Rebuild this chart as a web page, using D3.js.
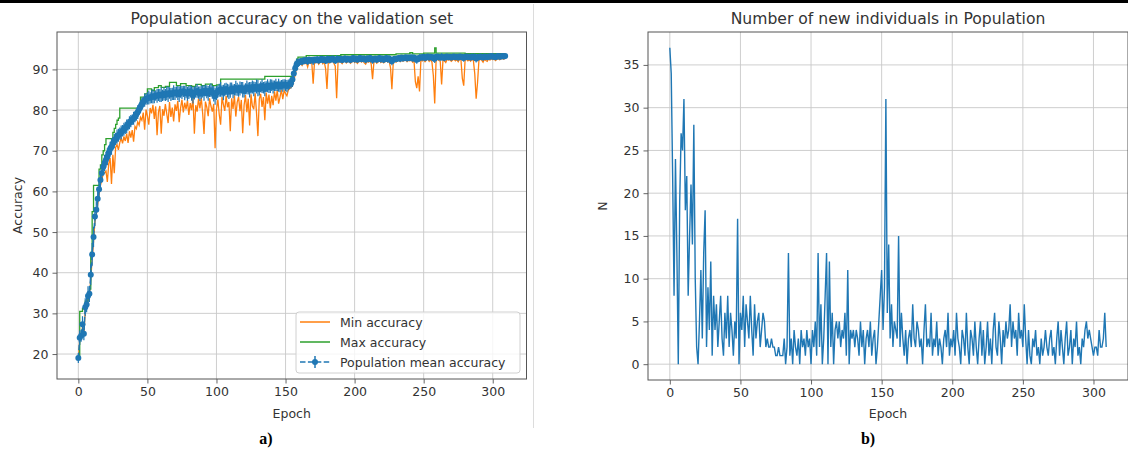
<!DOCTYPE html>
<html><head><meta charset="utf-8">
<script src="https://cdn.jsdelivr.net/npm/d3@7"></script>
<style>body{margin:0;background:#fff}svg{display:block}</style>
</head><body><svg id="chart" width="1128" height="452"></svg>
<script>
// ---------------- DATA ----------------
const X_TICKS = [0, 50, 100, 150, 200, 250, 300];
const ACC_TICKS = [20, 30, 40, 50, 60, 70, 80, 90];
const N_TICKS = [0, 5, 10, 15, 20, 25, 30, 35];
const LEGEND_LABELS = ["Min accuracy", "Max accuracy", "Population mean accuracy"];
const TITLE_A = "Population accuracy on the validation set";
const TITLE_B = "Number of new individuals in Population";

const MEAN_ACC = [
19.0,24.0,24.5,27.3,25.0,31.5,32.2,34.3,34.8,39.5,
44.5,48.8,53.8,55.5,58.2,60.5,62.8,64.5,66.0,67.0,
67.8,68.5,69.5,70.4,71.0,71.8,72.4,72.9,73.5,73.8,
74.2,74.5,74.9,75.3,75.6,76.0,76.4,76.9,77.3,77.6,
78.0,78.4,78.9,79.5,80.2,80.8,81.5,82.0,82.4,82.7,
82.9,83.1,83.0,83.3,83.4,83.2,83.6,83.5,83.7,83.6,
83.8,83.6,84.0,83.7,84.1,83.9,84.2,83.8,84.0,84.3,
84.1,84.4,84.2,83.9,84.5,84.3,84.6,84.2,84.4,84.0,
84.3,84.6,84.1,83.6,84.2,84.5,84.7,84.3,84.0,84.4,
84.6,84.2,84.8,84.5,84.1,84.7,84.9,84.4,84.0,83.4,
84.2,84.6,84.9,85.1,84.7,84.3,85.0,85.2,84.8,84.5,
84.9,85.3,84.6,85.0,85.4,85.1,84.8,85.3,85.5,85.0,
84.7,85.2,85.6,85.3,85.0,85.5,85.7,85.2,85.6,85.8,
85.4,85.1,85.7,85.9,85.5,85.2,85.8,86.0,85.6,85.9,
86.1,85.7,86.0,86.2,85.9,86.1,85.8,86.2,86.0,86.3,
86.1,85.9,86.2,86.4,86.6,87.5,89.0,90.3,91.2,91.6,
91.8,92.0,91.9,92.2,92.1,92.3,92.0,92.4,92.2,92.3,
92.1,92.4,92.3,92.5,92.2,92.4,92.6,92.3,92.5,92.2,
92.4,92.6,92.3,92.5,92.7,92.4,92.2,92.5,92.6,92.4,
92.6,92.3,92.5,92.7,92.4,92.6,92.5,92.3,92.6,92.8,
92.5,92.7,92.4,92.6,92.8,92.5,92.7,92.6,92.4,92.7,
92.5,92.8,92.6,92.3,92.5,92.7,92.4,92.6,92.8,92.5,
92.7,92.4,92.6,92.8,92.5,92.7,92.3,92.0,92.4,92.6,
92.5,92.7,92.8,92.6,92.9,92.7,92.8,93.0,92.7,92.9,
92.8,93.0,92.7,92.9,92.6,92.4,92.7,92.8,93.0,92.9,
93.1,92.8,93.0,93.2,92.9,93.1,93.0,92.8,92.6,93.1,
93.2,93.0,92.9,93.1,93.0,92.8,93.1,93.2,93.0,93.1,
92.9,93.1,93.2,93.0,93.1,92.9,93.2,93.1,93.0,92.8,
93.1,93.2,93.0,93.1,92.9,93.2,93.0,93.1,92.7,92.9,
93.0,93.2,93.1,92.9,93.2,93.1,93.0,93.2,93.1,93.3,
93.1,93.2,93.0,93.2,93.3,93.1,93.2,93.3,93.2,93.3
];

// standard deviation of the population accuracy (error bars)
const MEAN_STD = [
1.2,1.8,1.5,2.0,1.6,2.2,1.9,2.4,2.0,2.6,
2.8,2.5,2.3,2.1,2.4,2.0,1.9,2.2,1.8,2.0,
1.9,2.1,1.7,1.8,2.0,1.6,1.8,1.5,1.7,1.6,
1.5,1.7,1.4,1.6,1.5,1.7,1.4,1.6,1.5,1.3,
1.6,1.4,1.5,1.7,1.4,1.6,1.5,1.3,1.6,1.4,
1.5,1.7,1.4,1.6,1.8,1.5,1.3,1.7,1.5,1.6,
1.8,1.4,1.6,1.5,1.7,1.9,1.4,1.6,1.5,1.8,
1.6,1.4,1.7,1.9,1.5,1.6,1.4,1.8,1.5,1.7,
1.6,1.5,1.8,2.0,1.6,1.4,1.7,1.5,1.8,1.6,
1.5,1.9,1.4,1.6,1.8,1.5,1.7,1.6,1.9,2.1,
1.7,1.5,1.6,1.8,1.4,1.9,1.6,1.5,1.7,1.8,
1.9,1.5,1.7,1.4,1.8,1.6,1.5,1.7,1.4,1.9,
1.6,1.4,1.7,1.5,1.9,1.4,1.6,1.8,1.3,1.7,
2.0,1.5,1.3,1.7,1.4,1.8,1.3,1.6,1.4,1.7,
1.4,1.6,1.3,1.5,1.2,1.6,1.4,1.2,1.5,1.3,
1.4,1.5,1.3,1.2,1.3,1.8,2.0,1.8,1.4,1.0,
0.9,0.8,0.9,0.7,0.8,0.7,0.9,0.7,0.8,0.7,
1.0,0.7,0.8,0.7,0.8,0.7,0.6,0.8,0.7,0.9,
1.0,0.7,0.8,0.7,0.6,0.8,0.9,1.0,0.7,0.6,
0.7,0.8,0.6,0.7,0.8,0.6,0.7,0.8,0.7,0.6,
0.8,0.6,0.7,0.8,0.6,0.7,0.6,0.8,0.9,0.7,
0.7,0.6,0.8,0.9,0.7,0.6,0.8,0.7,0.6,0.8,
0.6,0.8,0.7,0.6,0.8,0.7,0.9,1.0,0.8,0.7,
0.7,0.6,0.7,0.8,0.6,0.7,0.6,0.5,0.7,0.6,
0.7,0.6,0.8,0.7,0.9,1.0,0.8,0.9,0.6,0.7,
0.6,0.8,0.7,0.6,0.7,0.6,0.8,0.9,1.0,0.7,
0.6,0.7,0.8,0.9,0.7,0.8,0.7,0.6,0.7,0.6,
0.7,0.6,0.5,0.7,0.6,0.7,0.5,0.6,0.8,0.9,
0.6,0.5,0.7,0.6,0.7,0.5,0.6,0.8,1.0,0.9,
0.7,0.6,0.5,0.7,0.5,0.6,0.7,0.5,0.6,0.5,
0.6,0.5,0.7,0.5,0.5,0.6,0.5,0.5,0.6,0.5
];

const MIN_ACC = [
18.6,23.2,24.0,26.6,24.5,30.8,31.6,33.5,34.0,38.5,
43.4,47.6,52.5,54.3,56.8,59.0,61.5,62.8,64.3,64.5,
65.0,62.3,66.8,68.2,61.8,69.0,64.5,70.8,71.5,70.2,
72.0,73.1,71.8,73.5,72.4,74.2,71.9,74.8,73.2,75.1,
72.2,76.0,75.4,77.1,76.3,78.2,77.5,79.4,75.2,80.1,
78.6,76.4,80.5,79.2,81.3,77.8,80.9,73.8,79.5,81.0,
74.2,80.2,78.6,81.5,79.1,76.8,82.0,78.3,80.6,77.2,
81.4,79.8,82.3,77.0,80.5,82.6,79.4,81.8,80.2,82.4,
78.8,81.7,80.0,83.1,74.2,81.2,79.6,82.8,80.4,83.0,
79.2,74.1,82.1,80.7,78.5,82.9,81.0,79.6,81.5,70.6,
80.2,82.6,78.9,76.4,83.2,81.4,79.8,83.5,80.7,82.0,
74.8,82.9,80.3,83.6,78.4,81.9,83.3,79.7,82.5,74.3,
81.2,83.7,79.5,82.8,76.2,83.9,81.0,80.2,84.1,79.3,
73.6,82.7,84.0,80.8,83.2,77.5,84.3,81.6,83.8,80.4,
83.5,81.2,84.6,82.3,84.9,81.6,83.2,85.0,82.7,84.8,
84.1,83.5,84.9,85.3,85.6,86.0,87.2,88.8,90.3,90.9,
91.2,91.5,91.0,91.7,91.4,91.8,90.6,92.0,91.5,91.7,
86.5,91.9,91.6,92.0,91.3,91.8,92.1,91.4,91.9,90.2,
85.2,92.0,91.6,91.9,92.2,91.5,90.8,82.9,91.7,92.0,
91.8,91.4,92.0,92.2,91.6,91.9,92.1,91.5,91.8,92.3,
91.7,92.0,91.5,91.9,92.2,91.8,92.1,91.6,91.3,92.0,
91.8,92.1,91.4,87.6,91.9,92.2,91.5,91.8,92.3,91.7,
92.0,91.6,91.9,92.2,91.8,92.1,90.4,85.1,91.8,92.0,
91.8,92.1,92.3,91.9,92.4,92.0,92.2,92.5,91.9,92.3,
92.1,92.4,91.8,92.2,87.0,85.4,88.3,84.6,92.3,92.1,
92.4,91.9,92.3,92.6,92.0,92.4,91.8,88.5,81.6,92.3,
92.5,92.2,92.0,86.3,92.4,92.1,91.7,92.5,92.3,92.4,
92.0,92.3,92.5,92.1,92.4,91.9,92.5,92.3,87.8,86.0,
92.3,92.5,92.1,92.4,92.0,92.5,92.2,88.9,82.8,86.7,
92.2,92.5,92.3,91.8,92.5,92.2,92.0,92.6,92.3,92.7,
92.4,92.6,92.2,92.5,92.7,92.4,92.6,92.7,92.5,92.8
];

const MAX_ACC = [
19.6,30.5,30.5,31.2,31.2,33.0,33.0,34.9,36.0,45.0,
55.0,61.5,61.5,61.5,61.5,65.5,66.5,69.0,70.0,71.5,
73.0,73.0,73.0,73.0,73.0,74.5,75.5,76.5,77.5,78.0,
80.5,80.5,80.5,80.5,80.5,80.5,80.5,80.5,80.5,80.5,
80.5,80.5,80.5,80.5,80.5,83.2,83.2,83.2,84.0,84.0,
85.2,85.2,85.2,84.8,84.8,85.5,85.5,85.5,86.0,86.0,
85.6,85.6,85.6,85.8,85.8,85.8,86.8,86.8,86.8,86.8,
86.8,86.0,86.0,86.0,86.5,86.5,86.5,86.5,86.0,86.0,
86.0,86.0,85.8,85.8,85.8,86.3,86.3,86.3,86.3,86.0,
86.0,86.0,86.4,86.4,86.4,86.4,86.4,86.0,86.0,86.0,
86.2,86.2,86.2,87.6,87.6,87.6,87.6,87.6,87.6,87.6,
87.6,87.6,87.6,87.6,87.6,87.6,87.6,87.6,87.6,87.6,
87.6,87.6,87.6,87.6,87.6,87.6,87.6,87.6,87.6,87.6,
87.6,87.6,87.6,87.6,87.6,88.3,88.3,88.3,88.3,88.3,
88.3,88.3,88.3,88.3,88.3,88.3,88.3,88.3,88.3,88.3,
88.3,88.3,88.3,88.3,88.3,89.0,90.5,91.5,92.5,93.0,
93.0,93.0,93.0,93.0,93.0,93.4,93.4,93.4,93.4,93.4,
93.4,93.4,93.4,93.4,93.4,93.4,93.4,93.4,93.4,93.4,
93.4,93.4,93.4,93.4,93.4,93.4,93.4,93.4,93.4,93.4,
93.6,93.6,93.6,93.6,93.6,93.6,93.6,93.6,93.6,93.6,
93.6,93.6,93.6,93.6,93.6,93.6,93.6,93.6,93.6,93.6,
93.6,93.6,93.6,93.6,93.6,93.6,93.6,93.6,93.6,93.6,
93.6,93.6,93.6,93.6,93.6,93.6,93.6,93.6,93.6,93.6,
93.8,93.8,93.8,93.8,93.8,93.8,93.8,93.8,93.8,93.8,
94.1,94.1,93.8,93.8,93.8,93.8,93.8,93.8,93.8,93.8,
94.0,94.0,94.0,94.0,94.0,94.0,94.0,94.0,95.3,94.0,
94.0,94.0,94.0,94.0,94.0,94.0,94.0,94.0,94.0,94.0,
94.0,94.0,94.0,94.0,94.0,94.0,94.0,94.0,94.0,94.0,
93.9,93.9,93.9,93.9,93.9,93.9,93.9,93.9,93.9,93.9,
93.9,93.9,93.9,93.9,93.9,93.9,93.9,93.9,93.9,93.9,
93.9,93.9,93.9,93.9,93.9,93.9,93.9,93.9,93.9,93.9
];

const NEW_INDIVIDUALS = [
37,34,22,8,24,13,0,19,27,25,
31,18,22,8,15,21,14,28,10,2,
0,5,11,3,13,18,2,9,4,12,
1,8,4,7,2,5,8,3,1,6,
3,8,2,6,4,1,5,3,17,0,
6,4,8,2,7,5,3,8,4,1,
7,3,5,6,2,4,6,5,2,3,
2,2,3,2,2,1,1,2,1,1,
1,3,0,2,13,1,3,0,4,2,
1,3,0,4,2,3,1,4,2,3,
0,4,2,5,1,13,2,7,0,3,
8,13,0,12,2,6,0,4,5,3,
5,2,4,3,6,1,11,0,4,3,
4,2,4,3,1,5,2,4,0,3,
4,2,5,1,3,4,0,2,5,8,
11,4,9,31,6,14,3,7,2,5,
4,3,15,2,6,3,1,4,0,3,
4,2,7,3,2,5,4,2,3,0,
4,7,2,3,2,6,1,3,2,5,
1,3,2,0,3,4,2,6,1,3,
2,4,1,6,3,2,0,4,3,1,
6,2,0,4,3,1,5,2,0,3,
5,1,4,0,2,5,1,3,0,4,
6,2,1,5,3,0,4,2,5,3,
4,7,2,5,3,4,1,6,3,4,
2,7,3,0,4,1,0,3,2,4,
1,2,0,3,1,2,4,2,1,3,
4,1,2,0,3,5,1,4,2,0,
3,5,1,2,4,0,3,2,5,1,
2,0,3,2,4,5,3,4,3,2,
1,2,2,1,4,2,2,3,6,2
];

// ---------------- DRAWING ----------------
const FONT = "'DejaVu Sans', sans-serif";
const TXT = "#333";
const C_BLUE = "#1f77b4", C_ORANGE = "#ff7f0e", C_GREEN = "#2ca02c";
const svg = d3.select("#chart");
svg.append("rect").attr("width", 1128).attr("height", 452).attr("fill", "#fff");
svg.append("rect").attr("x", 0).attr("y", 0).attr("width", 1128).attr("height", 3).attr("fill", "#000");
svg.append("line").attr("x1", 533.5).attr("x2", 533.5).attr("y1", 4).attr("y2", 428)
  .attr("stroke", "#dcdcdc").attr("stroke-width", 1);

function makePanel(o) {
  const x = d3.scaleLinear().domain(o.xd).range([o.l, o.r]);
  const y = d3.scaleLinear().domain(o.yd).range([o.b, o.t]);
  const g = svg.append("g");
  const id = "clip" + o.id;
  svg.append("defs").append("clipPath").attr("id", id)
    .append("rect").attr("x", o.l).attr("y", o.t).attr("width", o.r - o.l).attr("height", o.b - o.t);
  g.append("g").selectAll("line").data(X_TICKS).join("line")
    .attr("x1", d => x(d)).attr("x2", d => x(d)).attr("y1", o.t).attr("y2", o.b)
    .attr("stroke", "#c8c8c8").attr("stroke-width", 0.9);
  g.append("g").selectAll("line").data(o.yTicks).join("line")
    .attr("x1", o.l).attr("x2", o.r).attr("y1", d => y(d)).attr("y2", d => y(d))
    .attr("stroke", "#c8c8c8").attr("stroke-width", 0.9);
  const plot = svg.append("g").attr("clip-path", `url(#${id})`);
  const xa = svg.append("g").attr("transform", `translate(0,${o.b})`)
    .call(d3.axisBottom(x).tickValues(X_TICKS).tickSize(4.5).tickPadding(4).tickFormat(d3.format("d")));
  const ya = svg.append("g").attr("transform", `translate(${o.l},0)`)
    .call(d3.axisLeft(y).tickValues(o.yTicks).tickSize(4.5).tickPadding(4).tickFormat(d3.format("d")));
  [xa, ya].forEach(a => {
    a.select(".domain").remove();
    a.selectAll(".tick line").attr("stroke", "#555").attr("stroke-width", 0.9);
    a.selectAll("text").attr("fill", TXT).style("font-family", FONT).style("font-size", "12.5px");
  });
  svg.append("rect").attr("x", o.l).attr("y", o.t).attr("width", o.r - o.l).attr("height", o.b - o.t)
    .attr("fill", "none").attr("stroke", "#555").attr("stroke-width", 1);
  svg.append("text").attr("x", (o.l + o.r) / 2).attr("y", o.t - 8).attr("text-anchor", "middle")
    .attr("fill", TXT).style("font-family", FONT).style("font-size", "15.6px").text(o.title);
  svg.append("text").attr("x", (o.l + o.r) / 2).attr("y", 418).attr("text-anchor", "middle")
    .attr("fill", TXT).style("font-family", FONT).style("font-size", "12.5px").text("Epoch");
  svg.append("text").attr("transform", `translate(${o.ylx},${(o.t + o.b) / 2}) rotate(-90)`)
    .attr("text-anchor", "middle").attr("fill", TXT).style("font-family", FONT).style("font-size", "12.5px").text(o.ylabel);
  svg.append("text").attr("x", o.subX).attr("y", 444).attr("text-anchor", "middle")
    .style("font-family", "'Liberation Serif', 'Times New Roman', serif").style("font-weight", "bold")
    .style("font-size", "16px").attr("fill", "#000").text(o.sub);
  return { x, y, plot };
}

// ---------- Panel a ----------
const A = makePanel({ id: "a", l: 57, r: 526.5, t: 32, b: 379, xd: [-15.45, 324.45], yd: [13.86, 99.2],
  yTicks: ACC_TICKS, title: TITLE_A, ylabel: "Accuracy", ylx: 22, sub: "a)", subX: 266 });
const idx = MEAN_ACC.map((_, i) => i);
A.plot.append("path").datum(idx).attr("d", d3.line().x(i => A.x(i)).y(i => A.y(MIN_ACC[i])))
  .attr("fill", "none").attr("stroke", C_ORANGE).attr("stroke-width", 1.3);
A.plot.append("path").datum(idx).attr("d", d3.line().curve(d3.curveStepAfter).x(i => A.x(i)).y(i => A.y(MAX_ACC[i])))
  .attr("fill", "none").attr("stroke", C_GREEN).attr("stroke-width", 1.3);
A.plot.append("g").selectAll("line").data(idx).join("line")
  .attr("x1", i => A.x(i)).attr("x2", i => A.x(i))
  .attr("y1", i => A.y(MEAN_ACC[i] - MEAN_STD[i])).attr("y2", i => A.y(MEAN_ACC[i] + MEAN_STD[i]))
  .attr("stroke", C_BLUE).attr("stroke-width", 1.2);
A.plot.append("path").datum(idx).attr("d", d3.line().x(i => A.x(i)).y(i => A.y(MEAN_ACC[i])))
  .attr("fill", "none").attr("stroke", C_BLUE).attr("stroke-width", 1.5).attr("stroke-dasharray", "5.5,2.4");
A.plot.append("g").selectAll("circle").data(idx).join("circle")
  .attr("cx", i => A.x(i)).attr("cy", i => A.y(MEAN_ACC[i])).attr("r", 3).attr("fill", C_BLUE);

// legend
const lg = svg.append("g");
lg.append("rect").attr("x", 296).attr("y", 312).attr("width", 224).attr("height", 61).attr("rx", 3)
  .attr("fill", "#fff").attr("fill-opacity", 0.8).attr("stroke", "#d0d0d0");
const legColors = [C_ORANGE, C_GREEN, C_BLUE];
LEGEND_LABELS.forEach((lab, k) => {
  const yy = 322 + k * 20;
  if (k < 2) {
    lg.append("line").attr("x1", 300).attr("x2", 330).attr("y1", yy).attr("y2", yy)
      .attr("stroke", legColors[k]).attr("stroke-width", 1.5);
  } else {
    lg.append("line").attr("x1", 300).attr("x2", 330).attr("y1", yy).attr("y2", yy)
      .attr("stroke", C_BLUE).attr("stroke-width", 1.5).attr("stroke-dasharray", "5.5,2.4");
    lg.append("line").attr("x1", 315).attr("x2", 315).attr("y1", yy - 6).attr("y2", yy + 6)
      .attr("stroke", C_BLUE).attr("stroke-width", 1.5);
    lg.append("circle").attr("cx", 315).attr("cy", yy).attr("r", 3).attr("fill", C_BLUE);
  }
  lg.append("text").attr("x", 340).attr("y", yy + 4.5).attr("fill", TXT)
    .style("font-family", FONT).style("font-size", "12.5px").text(lab);
});

// ---------- Panel b ----------
const B = makePanel({ id: "b", l: 648, r: 1128, t: 32, b: 380, xd: [-15.45, 324.45], yd: [-1.85, 38.85],
  yTicks: N_TICKS, title: TITLE_B, ylabel: "N", ylx: 607, sub: "b)", subX: 868 });
B.plot.append("path").datum(NEW_INDIVIDUALS.map((_, i) => i))
  .attr("d", d3.line().x(i => B.x(i)).y(i => B.y(NEW_INDIVIDUALS[i])))
  .attr("fill", "none").attr("stroke", C_BLUE).attr("stroke-width", 1.4);
</script>
</body></html>
